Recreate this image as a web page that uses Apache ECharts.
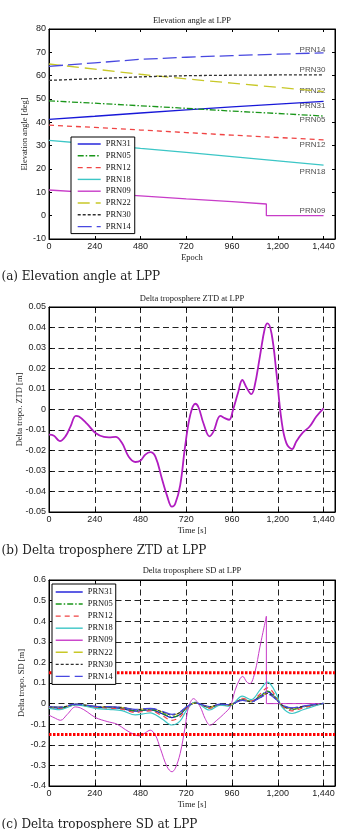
<!DOCTYPE html>
<html>
<head>
<meta charset="utf-8">
<script src="https://cdn.jsdelivr.net/npm/echarts@6/dist/echarts.min.js"></script>
<style>
html, body { margin: 0; padding: 0; background: #fff; }
#main { width: 343px; height: 829px; }
</style>
</head>
<body>
<div id="main"></div>
<script>
var prnNames = ['PRN31', 'PRN05', 'PRN12', 'PRN18', 'PRN09', 'PRN22', 'PRN30', 'PRN14'];

// (a) elevation angle [deg]
var elevEpoch = [0, 240, 480, 720, 960, 1200, 1440];
var elevPRN31 = [41.3, 42.6, 44.0, 45.3, 46.6, 47.8, 49.0];
var elevPRN05 = [49.2, 48.2, 47.1, 46.0, 44.8, 43.8, 42.7];
var elevPRN12 = [38.8, 37.8, 36.7, 35.6, 34.5, 33.5, 32.5];
var elevPRN18 = [32.3, 30.6, 28.8, 27.1, 25.3, 23.5, 21.7];
var elevPRN22 = [65.0, 62.8, 60.6, 58.6, 56.8, 55.0, 53.2];
var elevPRN30 = [58.0, 58.7, 59.5, 60.0, 60.2, 60.3, 60.3];
var elevPRN14 = [64.0, 65.5, 67.0, 67.9, 68.6, 69.2, 69.8];
var elevPRN09Epoch = [0, 240, 480, 720, 960, 1140, 1140, 1440];
var elevPRN09 = [11.0, 9.8, 8.5, 7.2, 6.0, 5.0, 0, 0];
// text tags at the right end (same order as prnNames)
var tagEpoch = 1382;
var tagValue = [47.2, 41.1, 30.5, 18.8, 2.3, 53.6, 62.6, 71.3];

// (b) delta troposphere ZTD [m]
var ztdTime = [0, 26, 57, 87, 113, 141, 157, 200, 244, 288, 314, 349, 383, 418, 453, 479, 505, 531, 558, 593,
  619, 645, 662, 688, 714, 741, 767, 784, 810, 842, 863, 899, 922, 945, 965, 991, 1014, 1035, 1061, 1078,
  1106, 1132, 1146, 1167, 1193, 1219, 1245, 1275, 1297, 1332, 1367, 1402, 1440];
var ztdValue = [-0.0123, -0.0128, -0.0154, -0.013, -0.0082, -0.0031, -0.0034, -0.007, -0.0115, -0.0134,
  -0.0136, -0.0134, -0.0164, -0.023, -0.0256, -0.025, -0.022, -0.0208, -0.023, -0.034,
  -0.042, -0.0474, -0.046, -0.037, -0.0179, -0.0026, 0.0028, 0.0011, -0.0067, -0.0131,
  -0.0107, -0.0031, -0.0042, -0.005, -0.0002, 0.008, 0.0144, 0.0109, 0.0075, 0.0112,
  0.0258, 0.0396, 0.042, 0.0372, 0.0177, -0.005, -0.0164, -0.0193, -0.0156, -0.0112,
  -0.0083, -0.0034, 0.0006];

// (c) delta troposphere SD [m]
var sdTime = [0, 57, 141, 244, 314, 383, 453, 505, 531, 593, 645, 688, 720, 767, 842, 899, 945, 1014, 1061,
  1106, 1146, 1193, 1219, 1275, 1332, 1402, 1440];
var sdPRN31 = [-0.019, -0.023, -0.005, -0.017, -0.020, -0.024, -0.037, -0.032, -0.030, -0.049, -0.068, -0.053, -0.021, 0.004,
  -0.018, -0.004, -0.007, 0.020, 0.010, 0.035, 0.057, 0.024, -0.007, -0.026, -0.015, -0.005, 0.001];
var sdPRN05 = [-0.016, -0.021, -0.004, -0.016, -0.018, -0.022, -0.035, -0.030, -0.029, -0.047, -0.066, -0.052, -0.021, 0.004,
  -0.019, -0.004, -0.007, 0.021, 0.011, 0.037, 0.061, 0.026, -0.007, -0.028, -0.016, -0.005, 0.001];
var sdPRN12 = [-0.020, -0.025, -0.005, -0.019, -0.022, -0.027, -0.043, -0.037, -0.035, -0.058, -0.081, -0.064, -0.026, 0.005,
  -0.023, -0.006, -0.009, 0.026, 0.013, 0.046, 0.076, 0.032, -0.009, -0.035, -0.021, -0.006, 0.001];
var sdPRN18 = [-0.023, -0.029, -0.006, -0.023, -0.028, -0.034, -0.055, -0.048, -0.045, -0.075, -0.104, -0.084, -0.034, 0.007,
  -0.031, -0.007, -0.012, 0.036, 0.019, 0.065, 0.104, 0.046, -0.013, -0.048, -0.030, -0.009, 0.002];
var sdPRN22 = [-0.014, -0.017, -0.004, -0.013, -0.015, -0.019, -0.029, -0.025, -0.024, -0.040, -0.056, -0.043, -0.018, 0.003,
  -0.016, -0.004, -0.006, 0.017, 0.009, 0.031, 0.051, 0.022, -0.006, -0.024, -0.014, -0.004, 0.001];
var sdPRN30 = [-0.015, -0.018, -0.004, -0.014, -0.016, -0.019, -0.030, -0.026, -0.024, -0.040, -0.055, -0.043, -0.017, 0.003,
  -0.015, -0.004, -0.006, 0.017, 0.009, 0.030, 0.049, 0.020, -0.006, -0.022, -0.013, -0.004, 0.001];
var sdPRN14 = [-0.014, -0.017, -0.003, -0.013, -0.015, -0.018, -0.028, -0.024, -0.023, -0.037, -0.052, -0.040, -0.016, 0.003,
  -0.014, -0.003, -0.005, 0.016, 0.008, 0.028, 0.045, 0.019, -0.005, -0.021, -0.012, -0.004, 0.001];
var sdPRN09Time = [0, 26, 61, 96, 139, 165, 200, 244, 305, 357, 400, 453, 479, 505, 531, 558, 584, 619, 645, 662,
  688, 714, 732, 758, 793, 819, 845, 880, 915, 950, 976, 1002, 1016, 1037, 1054, 1080, 1106, 1140];
var sdPRN09 = [-0.056, -0.068, -0.081, -0.052, -0.016, -0.021, -0.040, -0.068, -0.087, -0.100, -0.126, -0.153, -0.156, -0.142,
  -0.129, -0.153, -0.218, -0.306, -0.331, -0.315, -0.242, -0.113, -0.016, 0.024, -0.016, -0.073, -0.105, -0.081,
  -0.052, -0.016, 0.065, 0.121, 0.132, 0.105, 0.097, 0.153, 0.274, 0.424];
var sdPRN09TailTime = [1140, 1140, 1440];
var sdPRN09Tail = [0.424, 0, 0];
var limitTime = [0, 1500];
var limitUpper = [0.15, 0.15];
var limitLower = [-0.15, -0.15];

var styles = {
  PRN31: { color: '#1818d8', type: 'solid' },
  PRN05: { color: '#1a961a', type: [6, 2, 1.5, 2] },
  PRN12: { color: '#f04444', type: [5, 4] },
  PRN18: { color: '#3cc6c6', type: 'solid' },
  PRN09: { color: '#c83cc8', type: 'solid' },
  PRN22: { color: '#c8c828', type: [12, 6] },
  PRN30: { color: '#303030', type: [3, 2] },
  PRN14: { color: '#4848e0', type: [14, 5] }
};

function pairs(t, v) {
  return t.map(function (x, i) { return [x, v[i]]; });
}

function fmtEpoch(v) {
  if (v > 1440) return '';
  return String(v).replace(/\B(?=(\d{3})+(?!\d))/g, ',');
}

var serif = 'Liberation Serif';
var sans = 'Liberation Sans';

function bottomX(gi, name, grid) {
  return {
    type: 'value', gridIndex: gi, min: 0, max: 1500, interval: 240,
    name: name, nameLocation: 'middle', nameGap: 14, nameMoveOverlap: false,
    nameTextStyle: { fontFamily: serif, fontSize: 8.5, color: '#222', verticalAlign: 'top' },
    axisLine: { show: true, onZero: false, lineStyle: { color: '#000', width: 1 } },
    axisTick: { show: true, inside: true, length: 3, lineStyle: { color: '#000' } },
    axisLabel: { margin: 3, fontFamily: sans, fontSize: 9, color: '#222', formatter: fmtEpoch },
    splitLine: { show: grid, lineStyle: { color: '#222', type: [6, 3.5], width: 1 } }
  };
}
function mirrorX(gi) {
  return {
    type: 'value', gridIndex: gi, position: 'top', min: 0, max: 1500, interval: 240,
    axisLine: { show: true, onZero: false, lineStyle: { color: '#000' } },
    axisTick: { show: true, inside: true, length: 3, lineStyle: { color: '#000' } },
    axisLabel: { show: false }, splitLine: { show: false }
  };
}
function leftY(gi, name, min, max, step, digits, gap, grid) {
  return {
    type: 'value', gridIndex: gi, min: min, max: max, interval: step,
    name: name, nameLocation: 'middle', nameGap: gap, nameRotate: 90, nameMoveOverlap: false,
    nameTextStyle: { fontFamily: serif, fontSize: 8.5, color: '#222' },
    axisLine: { show: true, onZero: false, lineStyle: { color: '#000', width: 1 } },
    axisTick: { show: true, inside: true, length: 3, lineStyle: { color: '#000' } },
    axisLabel: {
      margin: 3, fontFamily: sans, fontSize: 9, color: '#222',
      formatter: function (v) { return Math.abs(v) < 1e-9 ? '0' : v.toFixed(digits); }
    },
    splitLine: { show: grid, lineStyle: { color: '#222', type: [6, 3.5], width: 1 } }
  };
}
function mirrorY(gi, min, max, step) {
  return {
    type: 'value', gridIndex: gi, position: 'right', min: min, max: max, interval: step,
    axisLine: { show: true, onZero: false, lineStyle: { color: '#000' } },
    axisTick: { show: true, inside: true, length: 3, lineStyle: { color: '#000' } },
    axisLabel: { show: false }, splitLine: { show: false }
  };
}

function lineSeries(name, idx, data, width, smooth) {
  var s = styles[name];
  return {
    type: 'line', name: name, xAxisIndex: idx, yAxisIndex: idx, data: data,
    symbol: 'none', smooth: smooth, silent: true,
    lineStyle: { color: s.color, type: s.type, width: width },
    itemStyle: { color: s.color }
  };
}

var series = [];
var elevData = { PRN31: elevPRN31, PRN05: elevPRN05, PRN12: elevPRN12, PRN18: elevPRN18,
  PRN22: elevPRN22, PRN30: elevPRN30, PRN14: elevPRN14 };
prnNames.forEach(function (n) {
  var d = n === 'PRN09' ? pairs(elevPRN09Epoch, elevPRN09) : pairs(elevEpoch, elevData[n]);
  series.push(lineSeries(n, 0, d, 1.3, false));
});
series.push({
  type: 'scatter', name: 'tags', xAxisIndex: 0, yAxisIndex: 0, symbolSize: 0, silent: true,
  data: prnNames.map(function (n, i) { return { name: n, value: [tagEpoch, tagValue[i]] }; }),
  label: { show: true, position: 'inside', formatter: '{b}', fontFamily: sans, fontSize: 8, color: '#222' }
});

series.push({
  type: 'line', name: 'ZTD', xAxisIndex: 1, yAxisIndex: 1, data: pairs(ztdTime, ztdValue),
  symbol: 'none', smooth: 0.4, silent: true,
  lineStyle: { color: '#b01cc0', width: 1.8 }
});

var sdData = { PRN31: sdPRN31, PRN05: sdPRN05, PRN12: sdPRN12, PRN18: sdPRN18,
  PRN22: sdPRN22, PRN30: sdPRN30, PRN14: sdPRN14 };
prnNames.forEach(function (n) {
  if (n === 'PRN09') {
    series.push(lineSeries(n, 2, pairs(sdPRN09Time, sdPRN09), 1, 0.35));
    series.push(lineSeries(n, 2, pairs(sdPRN09TailTime, sdPRN09Tail), 1, false));
  } else {
    series.push(lineSeries(n, 2, pairs(sdTime, sdData[n]), 1.2, 0.35));
  }
});
[limitUpper, limitLower].forEach(function (lim) {
  series.push({
    type: 'line', name: 'limit', xAxisIndex: 2, yAxisIndex: 2, data: pairs(limitTime, lim),
    symbol: 'none', silent: true, lineStyle: { color: '#ff0000', width: 3, type: [2.5, 1.5] }
  });
});

function text(x, y, str, family, size, align) {
  return {
    type: 'text', x: x, y: y, silent: true,
    style: { text: str, font: size + 'px "' + family + '"', fontFamily: family, fontSize: size,
      align: align, verticalAlign: 'middle', fill: '#222' }
  };
}

var legendBase = {
  data: prnNames, orient: 'vertical', selectedMode: false, itemHeight: 8,
  itemStyle: { opacity: 0, borderWidth: 0 },
  lineStyle: { width: 1.4 },
  backgroundColor: '#fff', borderColor: '#000', borderWidth: 1, borderRadius: 0,
  textStyle: { fontFamily: serif, fontSize: 8.5, color: '#111', lineHeight: 10 }
};

var option = {
  animation: false,
  backgroundColor: '#fff',
  grid: [
    { left: 49, top: 29, width: 286, height: 210, show: true, borderColor: '#000', borderWidth: 1, outerBoundsMode: 'none' },
    { left: 49, top: 307, width: 286, height: 205, show: true, borderColor: '#000', borderWidth: 1, outerBoundsMode: 'none' },
    { left: 49, top: 580, width: 286, height: 206, show: true, borderColor: '#000', borderWidth: 1, outerBoundsMode: 'none' }
  ],
  xAxis: [bottomX(0, 'Epoch', false), bottomX(1, 'Time [s]', true), bottomX(2, 'Time [s]', true),
    mirrorX(0), mirrorX(1), mirrorX(2)],
  yAxis: [
    leftY(0, 'Elevation angle [deg]', -10, 80, 10, 0, 20, false),
    leftY(1, 'Delta tropo. ZTD [m]', -0.05, 0.05, 0.01, 2, 25, true),
    leftY(2, 'Delta tropo. SD [m]', -0.4, 0.6, 0.1, 1, 23, true),
    mirrorY(0, -10, 80, 10), mirrorY(1, -0.05, 0.05, 0.01), mirrorY(2, -0.4, 0.6, 0.1)
  ],
  legend: [
    Object.assign({}, legendBase, { left: 71, top: 137, padding: [2, 4, 2, 6], itemWidth: 23, itemGap: 1.8 }),
    Object.assign({}, legendBase, { left: 52, top: 584, padding: [3, 3, 3, 3], itemWidth: 27, itemGap: 2.06 })
  ],
  graphic: [
    text(192, 21, 'Elevation angle at LPP', serif, 8.5, 'center'),
    text(192, 299, 'Delta troposphere ZTD at LPP', serif, 8.5, 'center'),
    text(192, 571, 'Delta troposphere SD at LPP', serif, 8.5, 'center'),
    text(1.5, 276.7, '(a) Elevation angle at LPP', 'DejaVu Serif', 12, 'left'),
    text(1.5, 550.5, '(b) Delta troposphere ZTD at LPP', 'DejaVu Serif', 12, 'left'),
    text(1.5, 824.5, '(c) Delta troposphere SD at LPP', 'DejaVu Serif', 12, 'left')
  ],
  series: series
};

var chart = echarts.init(document.getElementById('main'));
chart.setOption(option);
</script>
</body>
</html>
